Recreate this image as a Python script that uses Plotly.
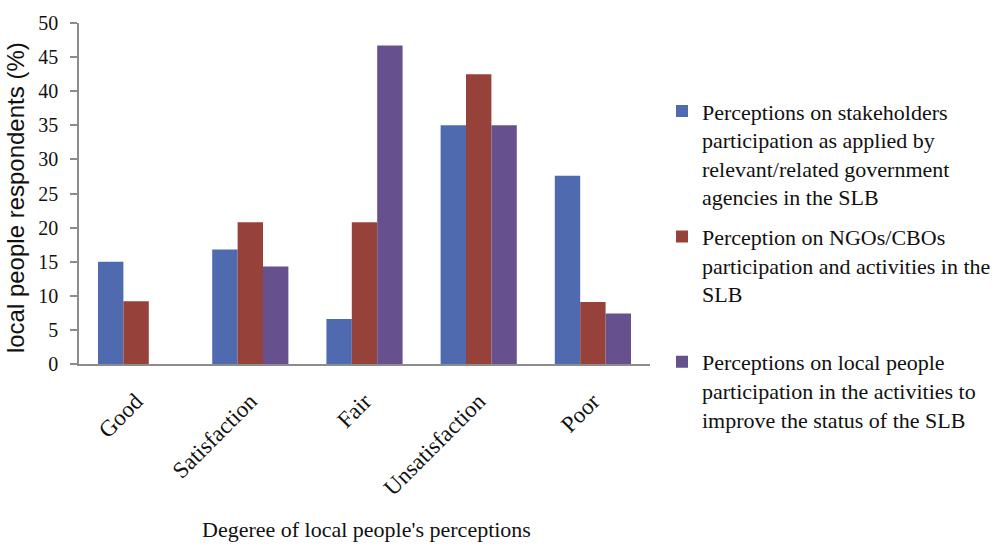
import plotly.graph_objects as go

# Perception levels on the category axis
categories = ["Good", "Satisfaction", "Fair", "Unsatisfaction", "Poor"]

# Share of respondents (%) per perception level
stakeholders_gov = [15.0, 16.8, 6.6, 35.0, 27.6]
ngo_cbo = [9.2, 20.8, 20.8, 42.5, 9.1]
local_people = [0.0, 14.3, 46.7, 35.0, 7.4]

series_names = [
    "Perceptions on stakeholders<br>participation as applied by<br>relevant/related government<br>agencies in the SLB",
    "Perception on NGOs/CBOs<br>participation and activities in the<br>SLB<br> ",
    "Perceptions on local people<br>participation in the activities to<br>improve the status of the SLB",
]
series_values = [stakeholders_gov, ngo_cbo, local_people]
series_colors = ["#506AB0", "#96413A", "#66508E"]

SERIF = "Liberation Serif"
SANS = "Liberation Sans"
TXT = "#111111"

fig = go.Figure()
for i, (name, vals, col) in enumerate(zip(series_names, series_values, series_colors)):
    fig.add_trace(go.Bar(
        x=categories, y=vals, name=name,
        marker=dict(color=col, line=dict(width=0)),
        legendgroup=f"g{i}",
    ))

fig.update_layout(
    width=997, height=547,
    margin=dict(l=79, r=345, t=14, b=183),
    paper_bgcolor="white", plot_bgcolor="white",
    barmode="group", bargap=0.333, bargroupgap=0,
    font=dict(family=SERIF, size=20, color=TXT),
    showlegend=True,
    legend=dict(
        xref="container", yref="container",
        x=0.664, xanchor="left", y=0.835, yanchor="top",
        font=dict(family=SERIF, size=22, color=TXT),
        valign="top", tracegroupgap=8, itemwidth=30,
        maxheight=520,
        bgcolor="rgba(0,0,0,0)",
    ),
    xaxis=dict(
        showline=True, linecolor="#8c8c8c", linewidth=1.5,
        ticks="", tickangle=-45, showgrid=False,
        tickfont=dict(family=SERIF, size=23, color=TXT),
        ticklabelstandoff=13,
    ),
    yaxis=dict(
        range=[0, 50], dtick=5, tick0=0,
        showline=True, linecolor="#8c8c8c", linewidth=1.5,
        ticks="outside", ticklen=7, tickcolor="#8c8c8c", tickwidth=1.5,
        showgrid=False, zeroline=False,
        tickfont=dict(family=SERIF, size=20, color=TXT),
        ticklabelstandoff=8,
    ),
    annotations=[
        dict(text="local people respondents (%)", textangle=-90,
             xref="paper", yref="paper", x=-0.110, y=0.487,
             xanchor="center", yanchor="middle", showarrow=False,
             font=dict(family=SANS, size=24, color=TXT)),
        dict(text="Degeree of local people's perceptions",
             xref="paper", yref="paper", x=0.503, y=-0.485,
             xanchor="center", yanchor="middle", showarrow=False,
             font=dict(family=SERIF, size=22, color=TXT)),
    ],
)

fig.write_html("out.html")
